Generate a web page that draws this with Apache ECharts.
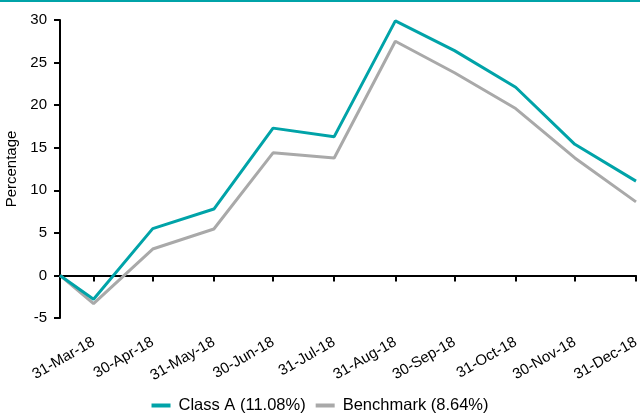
<!DOCTYPE html>
<html><head><meta charset="utf-8">
<script src="https://cdn.jsdelivr.net/npm/echarts@6/dist/echarts.min.js"></script>
<style>html,body{margin:0;padding:0;background:#fff}#c{width:640px;height:418px}</style>
</head><body><div id="c"></div>
<script>
const dates = ['2018-03-14','2018-03-31','2018-04-30','2018-05-31','2018-06-30','2018-07-31','2018-08-31','2018-09-30','2018-10-31','2018-11-30','2018-12-31'];
const classA = [0, -2.8, 5.5, 7.8, 17.3, 16.3, 29.9, 26.4, 22.1, 15.4, 11.08];
const benchmark = [0, -3.3, 3.1, 5.45, 14.4, 13.8, 27.5, 23.8, 19.6, 13.8, 8.64];
const tickDates = ['2018-03-31','2018-04-30','2018-05-31','2018-06-30','2018-07-31','2018-08-31','2018-09-30','2018-10-31','2018-11-30','2018-12-31'];
const tickLabels = ['31-Mar-18','30-Apr-18','31-May-18','30-Jun-18','31-Jul-18','31-Aug-18','30-Sep-18','31-Oct-18','30-Nov-18','31-Dec-18'];
const seriesNames = ['Class A (11.08%)','Benchmark (8.64%)'];

// day number since epoch (UTC), used as x value on a linear axis
function toDay(s){const p=s.split('-').map(Number);return Date.UTC(p[0],p[1]-1,p[2])/86400000;}
const xs = dates.map(toDay);
const tickXs = tickDates.map(toDay);
const FONT = '"Liberation Sans", Arial, sans-serif';
const TEAL = '#00a3a8', GRAY = '#a9a9a9';

const chart = echarts.init(document.getElementById('c'));
chart.setOption({
  animation:false,
  graphic:[{type:'rect',shape:{x:0,y:0,width:640,height:2},style:{fill:TEAL},silent:true}],
  grid:{left:60,right:4,top:20,bottom:100,containLabel:false,outerBoundsMode:'none'},
  legend:{
    bottom:-1,left:'center',itemWidth:19,itemHeight:4,itemGap:10,icon:'rect',
    textStyle:{fontFamily:FONT,fontSize:16.5,color:'#000',padding:[0,0,0,3]},
    data:seriesNames
  },
  xAxis:{
    type:'value',min:xs[0],max:xs[xs.length-1],scale:true,
    axisLine:{show:true,onZero:true,lineStyle:{color:'#000',width:2}},
    axisTick:{show:true,length:6,customValues:tickXs,lineStyle:{color:'#000',width:2}},
    axisLabel:{
      customValues:tickXs,rotate:30,margin:23,color:'#000',fontFamily:FONT,fontSize:15,
      hideOverlap:false,
      formatter:function(v){const i=tickXs.indexOf(v);return i>=0?tickLabels[i]:'';}
    },
    splitLine:{show:false}
  },
  yAxis:{
    type:'value',min:-5,max:30,interval:5,
    name:'Percentage',nameLocation:'middle',nameGap:34,
    nameTextStyle:{fontFamily:FONT,fontSize:15,color:'#000'},
    axisLine:{show:true,lineStyle:{color:'#000',width:2}},
    axisTick:{show:true,length:6,lineStyle:{color:'#000',width:2}},
    axisLabel:{color:'#000',fontFamily:FONT,fontSize:15,margin:13},
    splitLine:{show:false}
  },
  series:[
    {name:seriesNames[0],type:'line',symbol:'none',z:3,
     data:xs.map((t,i)=>[t,classA[i]]),lineStyle:{color:TEAL,width:3},itemStyle:{color:TEAL}},
    {name:seriesNames[1],type:'line',symbol:'none',z:2,
     data:xs.map((t,i)=>[t,benchmark[i]]),lineStyle:{color:GRAY,width:3},itemStyle:{color:GRAY}}
  ]
});
</script></body></html>
